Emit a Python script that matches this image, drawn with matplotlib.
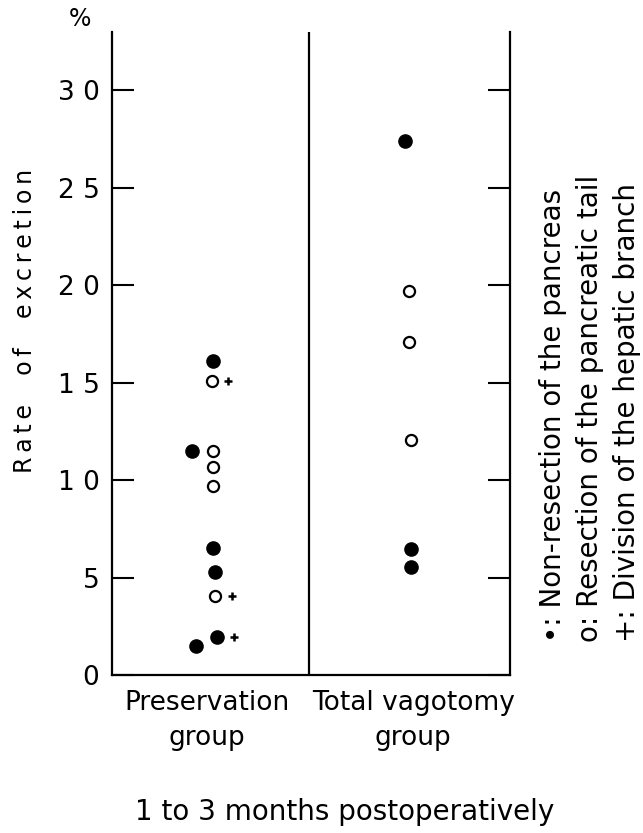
import matplotlib.pyplot as plt
import numpy as np

# Data (rate of excretion, %)
groups = ["Preservation\ngroup", "Total vagotomy\ngroup"]
y_ticks = [0, 5, 10, 15, 20, 25, 30]
y_ticklabels = ["0", "5", "1 0", "1 5", "2 0", "2 5", "3 0"]

# preservation group
pres_filled = [16.1, 11.5, 6.5, 5.3, 1.95, 1.5]
pres_filled_x = [0.51, 0.40, 0.51, 0.52, 0.53, 0.42]
pres_open = [15.1, 11.5, 10.7, 9.7, 4.05]
pres_open_x = [0.50, 0.51, 0.51, 0.51, 0.52]
pres_plus = [15.1, 4.05, 1.95]
pres_plus_x = [0.50, 0.52, 0.53]

# total vagotomy group
tv_filled = [27.4, 6.45, 5.55]
tv_filled_x = [1.47, 1.50, 1.50]
tv_open = [19.7, 17.1, 12.05]
tv_open_x = [1.49, 1.49, 1.50]

legend_lines = ["\u2022: Non-resection of the pancreas",
                "o: Resection of the pancreatic tail",
                "+: Division of the hepatic branch"]

plt.rcParams['font.family'] = ['DejaVu Sans']


def spaced(s):
    # loose letter spacing like the original lettering
    return "\u2009".join(s)


W, H = 643, 833
fig = plt.figure(figsize=(W / 100, H / 100), dpi=100)
ax = fig.add_axes([112 / W, 1 - 675 / H, 398 / W, 643 / H])

ax.plot(pres_filled_x, pres_filled, 'o', color='black', ms=9.5, mec='black')
ax.plot(pres_open_x, pres_open, 'o', mfc='white', mec='black', ms=8, mew=1.6)
ax.plot(np.array(pres_plus_x) + 0.085, pres_plus, '+', color='black', ms=6, mew=1.8)
ax.plot(tv_filled_x, tv_filled, 'o', color='black', ms=9.5, mec='black')
ax.plot(tv_open_x, tv_open, 'o', mfc='white', mec='black', ms=8, mew=1.6)

ax.axvline(0.99, color='black', lw=1.6)

ax.set_xlim(0, 2)
ax.set_ylim(0, 33)
ax.spines['top'].set_visible(False)
for s in ['left', 'right', 'bottom']:
    ax.spines[s].set_linewidth(1.6)

ax.set_yticks(y_ticks)
ax.set_yticklabels(y_ticklabels, fontsize=19)
ax.tick_params(axis='y', direction='in', length=16, width=1.5, pad=9,
               left=True, right=True)
ax.set_xticks([])

ax.set_ylabel(spaced("Rate  of  excretion"), fontsize=17)
ax.yaxis.label.set_va('center')
ax.yaxis.set_label_coords(-0.218, 0.55)
ax.text(-0.08, 1.02, "%", transform=ax.transAxes, fontsize=17,
        ha='center', va='center')

# group labels
ax.text(0.477, -0.75, groups[0], fontsize=19, ha='center', va='top',
        linespacing=1.45)
ax.text(1.513, -0.75, groups[1], fontsize=19, ha='center', va='top',
        linespacing=1.45)
fig.text(345 / W, 1 - 812 / H, "1 to 3 months postoperatively",
         fontsize=20, ha='center', va='center')

# legend written vertically on the right
for i, line in enumerate(legend_lines):
    fig.text((553 + 37 * i) / W, 1 - 642 / H, line, rotation=90,
             rotation_mode='anchor', ha='left', va='center', fontsize=20)

fig.savefig("out.png", dpi=100)
